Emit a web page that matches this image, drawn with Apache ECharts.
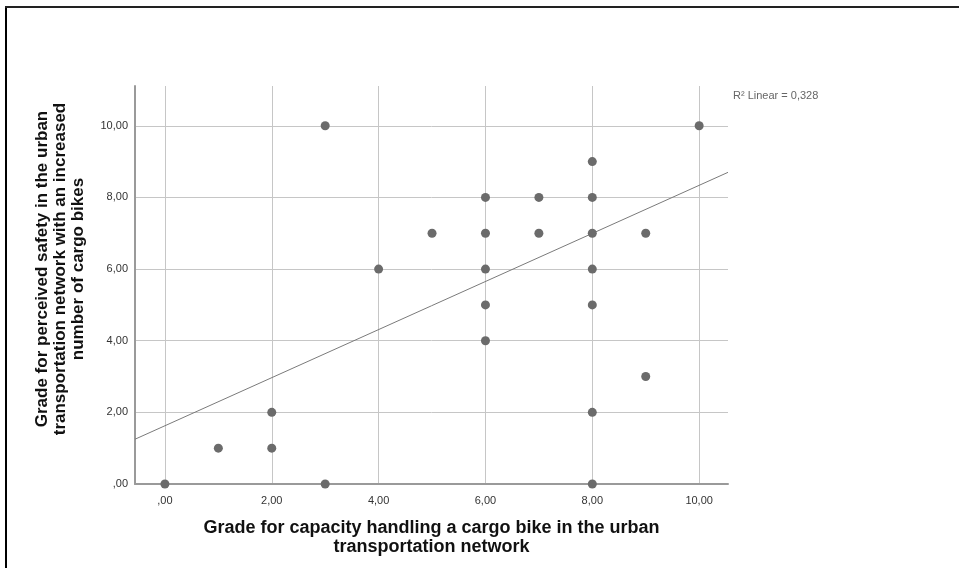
<!DOCTYPE html>
<html>
<head>
<meta charset="utf-8">
<title>Cargo bike grades</title>
<script src="https://cdn.jsdelivr.net/npm/echarts@6/dist/echarts.min.js"></script>
<style>
	* {
		margin: 0;
		padding: 0;
	}

	body {
		background: #fff;
	}

	.chart {
		width: 959px;
		height: 568px;
	}
</style>
</head>
<body>
<div id="main" class="chart"></div>
<script>
	// tick values on both axes
	var xTicks = [0, 2, 4, 6, 8, 10];
	var yTicks = [0, 2, 4, 6, 8, 10];

	// grade for capacity handling a cargo bike (x) / perceived safety (y)
	var gradeCapacity = [0, 1, 2, 2, 3, 3, 4, 5, 6, 6, 6, 6, 6, 7, 7, 8, 8, 8, 8, 8, 8, 8, 9, 9, 10];
	var gradeSafety = [0, 1, 2, 1, 10, 0, 6, 7, 8, 7, 6, 5, 4, 8, 7, 9, 8, 7, 6, 5, 2, 0, 7, 3, 10];

	// fit line end points
	var fitX = [-0.56, 10.54];
	var fitY = [1.25, 8.70];

	var rSquaredText = 'R\u00b2 Linear = 0,328';
	var yTitle = 'Grade for perceived safety in the urban\ntransportation network with an increased\nnumber of cargo bikes';
	var xTitle = 'Grade for capacity handling a cargo bike in the urban\ntransportation network';

	var font = "'Liberation Sans', Arial, sans-serif";

	function spssNum(v) {
		if (v === 0) return ',00';
		return v.toFixed(2).replace('.', ',');
	}

	var points = gradeCapacity.map(function(x, i) {
		return [x, gradeSafety[i]];
	});
	var fitData = fitX.map(function(x, i) {
		return [x, fitY[i]];
	});
	var gridLines = [];
	xTicks.forEach(function(v) {
		gridLines.push({ xAxis: v });
	});
	yTicks.forEach(function(v) {
		if (v !== 0) gridLines.push({ yAxis: v });
	});

	var chart = echarts.init(document.getElementById('main'));
	chart.setOption({
		animation: false,
		grid: {
			left: 135,
			right: 231,
			top: 86,
			bottom: 84
		},
		xAxis: {
			type: 'value',
			min: -0.56,
			max: 10.54,
			name: xTitle,
			nameLocation: 'middle',
			nameGap: 35,
			nameTextStyle: {
				fontFamily: font,
				fontSize: 18,
				fontWeight: 'bold',
				color: '#111',
				lineHeight: 19
			},
			axisLine: {
				onZero: false,
				lineStyle: { color: '#9a9a9a', width: 2 }
			},
			axisTick: { show: false },
			splitLine: { show: false },
			axisLabel: {
				customValues: xTicks,
				formatter: spssNum,
				margin: 11,
				fontFamily: font,
				fontSize: 11,
				color: '#333'
			}
		},
		yAxis: {
			type: 'value',
			min: 0,
			max: 11.11,
			axisLine: {
				show: true,
				onZero: false,
				lineStyle: { color: '#9a9a9a', width: 2 }
			},
			axisTick: { show: false },
			splitLine: { show: false },
			axisLabel: {
				customValues: yTicks,
				formatter: spssNum,
				margin: 7,
				fontFamily: font,
				fontSize: 11,
				color: '#333'
			}
		},
		graphic: [{
			type: 'line',
			shape: { x1: 6, y1: 7, x2: 6, y2: 568 },
			style: { stroke: '#000', lineWidth: 2 }
		}, {
			type: 'line',
			shape: { x1: 5, y1: 7, x2: 959, y2: 7 },
			style: { stroke: '#222', lineWidth: 2 }
		}, {
			type: 'text',
			left: 733,
			top: 90,
			style: {
				text: rSquaredText,
				font: '11px ' + font,
				fill: '#666'
			}
		}, {
			type: 'text',
			x: 60,
			y: 269,
			rotation: Math.PI / 2,
			style: {
				text: yTitle,
				font: 'bold 17px ' + font,
				lineHeight: 18,
				fill: '#111',
				align: 'center',
				verticalAlign: 'middle'
			}
		}],
		series: [{
			// gridlines
			type: 'line',
			data: [],
			z: 1,
			markLine: {
				z: 0,
				silent: true,
				symbol: ['none', 'none'],
				label: { show: false },
				lineStyle: { color: '#c6c6c6', width: 1, type: 'solid' },
				data: gridLines
			}
		}, {
			name: 'fit',
			type: 'line',
			data: fitData,
			z: 2,
			symbol: 'none',
			lineStyle: { color: '#7a7a7a', width: 1 }
		}, {
			name: 'grades',
			type: 'scatter',
			data: points,
			z: 10,
			symbolSize: 9,
			itemStyle: { color: '#6b6b6b', opacity: 1 }
		}]
	});
</script>
</body>
</html>
